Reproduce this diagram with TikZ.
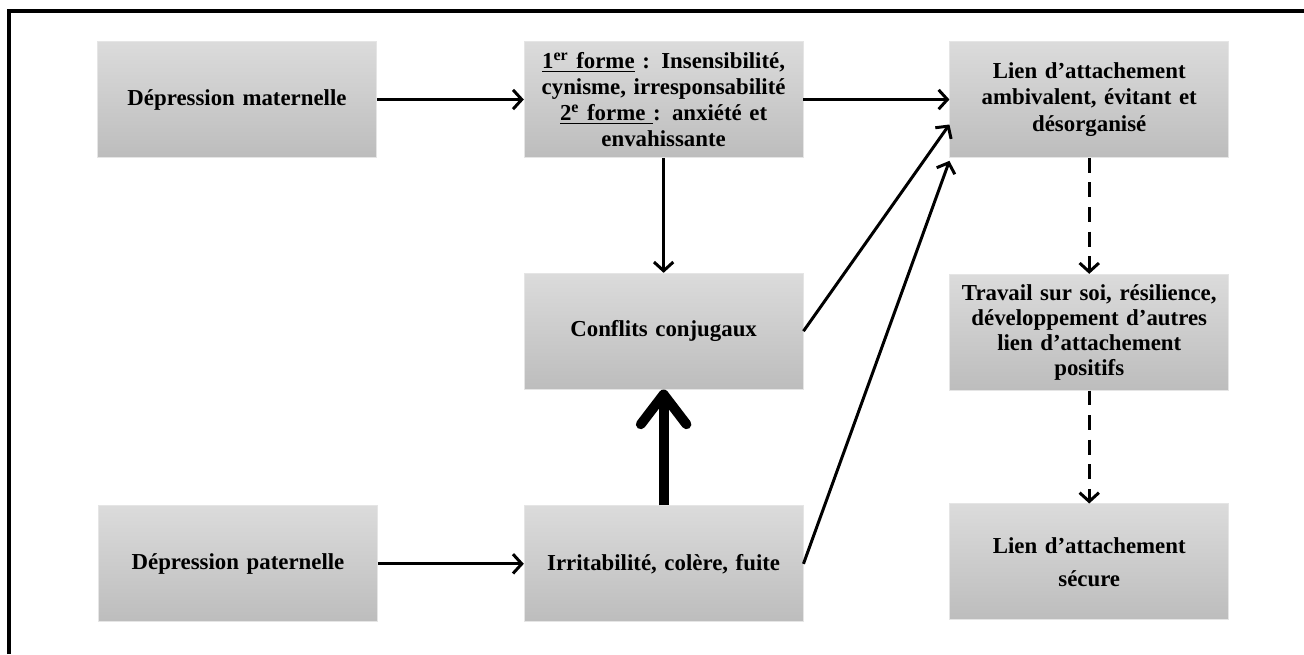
\documentclass[tikz,border=0pt]{standalone}
\usepackage{fontspec}
\setmainfont{Liberation Serif}
\usetikzlibrary{arrows.meta, positioning}

\tikzset{
  boite/.style={shade, top color=black!14, bottom color=black!26, draw=black!10,
    minimum width=5.58cm, minimum height=2.32cm, text width=5.4cm, inner sep=0pt,
    align=center, font=\bfseries\fontsize{13}{14.8}\selectfont},
  interligne/.style={font=\bfseries\fontsize{13}{#1}\selectfont},
  fleche/.style={-{Straight Barb[length=5pt, width=11pt]}, line width=1.7pt},
  pointille/.style={fleche, dash pattern=on 8.5pt off 5.5pt},
  grosse/.style={-{Straight Barb[length=17pt, width=26pt, line cap=round, line join=round]}, line width=5.6pt}
}

\begin{document}
\begin{tikzpicture}[x=0.02cm, y=-0.02cm]
  \useasboundingbox (0,0) rectangle (1304,654);
  \draw[line width=1.8pt] (9,654) -- (9,11) -- (1304,11);

  \node[boite] (mat) at (237,99.5) {Dépression maternelle};
  \node[boite, right=2.94cm of mat] (forme) {\underline{1\textsuperscript{er} forme} : Insensibilité,\\ cynisme, irresponsabilité\\ \underline{2\textsuperscript{e} forme\ }: anxiété et\\ envahissante};
  \node[boite, interligne=15, right=2.92cm of forme] (lien) {Lien d’attachement\\ ambivalent, évitant et\\ désorganisé};
  \node[boite, below=2.3cm of forme] (conflits) {Conflits conjugaux};
  \node[boite, below=2.32cm of conflits] (irrit) {Irritabilité, colère, fuite};
  \node[boite, left=2.92cm of irrit] (pat) {Dépression paternelle};
  \node[boite, interligne=14.2, below=2.32cm of lien] (travail) {Travail sur soi, résilience,\\ développement d’autres\\ lien d’attachement\\ positifs};
  \node[boite, interligne=18.7, below=2.26cm of travail] (secure) {Lien d’attachement\\ sécure};

  \draw[fleche] (mat) -- (forme);
  \draw[fleche] (forme) -- (lien);
  \draw[fleche] (forme) -- (conflits);
  \draw[fleche] (pat) -- (irrit);
  \draw[fleche] (conflits.east) -- ([yshift=-0.5cm]lien.west);
  \draw[fleche] (irrit.east) -- ([yshift=-0.06cm]lien.south west);
  \draw[grosse] (irrit) -- (conflits);
  \draw[pointille] (lien) -- (travail);
  \draw[pointille] (travail) -- (secure);
\end{tikzpicture}
\end{document}
